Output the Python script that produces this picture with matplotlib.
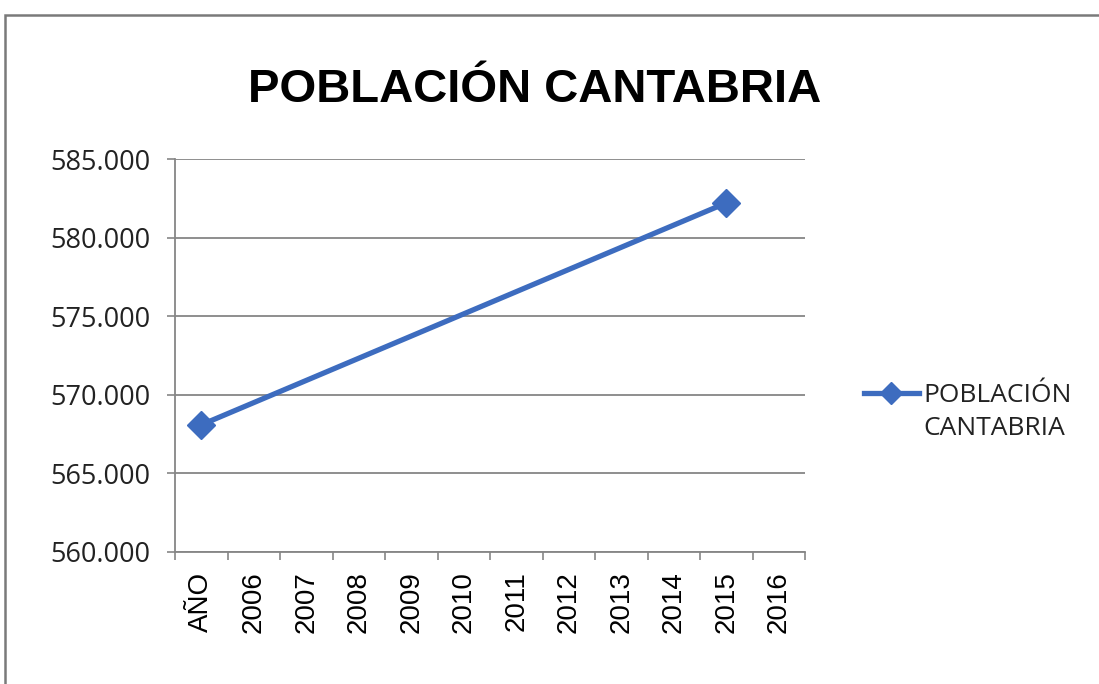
import numpy as np
import matplotlib
matplotlib.use("Agg")
from matplotlib import pyplot as plt
from matplotlib import font_manager
from matplotlib.patches import Rectangle
from matplotlib.ticker import FuncFormatter, FixedLocator
from matplotlib.legend_handler import HandlerLine2D

# datos
categorias = ["AÑO", "2006", "2007", "2008", "2009", "2010",
              "2011", "2012", "2013", "2014", "2015", "2016"]
poblacion = [568091, np.nan, np.nan, np.nan, np.nan, np.nan,
             np.nan, np.nan, np.nan, np.nan, 582206, np.nan]
serie = "POBLACIÓN\nCANTABRIA"
titulo = "POBLACIÓN CANTABRIA"

nombres = {f.name for f in font_manager.fontManager.ttflist}
if "Liberation Sans Narrow" in nombres:
    titulo_font, titulo_size = "Liberation Sans Narrow", 40
else:
    titulo_font, titulo_size = "Liberation Sans", 34

azul = "#3d6cbf"
gris = "#868686"


class HandleArriba(HandlerLine2D):
    # la marca de la leyenda va a la altura de la primera linea del texto
    def create_artists(self, legend, orig_handle, xdescent, ydescent,
                       width, height, fontsize, trans):
        arts = super().create_artists(legend, orig_handle, xdescent, ydescent,
                                      width, height, fontsize, trans)
        for a in arts:
            a.set_ydata(np.asarray(a.get_ydata()) + fontsize * 0.72)
        return arts


fig = plt.figure(figsize=(10.99, 6.84), dpi=100)
fig.patch.set_facecolor("white")

# marco del grafico
fig.add_artist(Rectangle((5 / 1099, -0.1), 1.2, 1.1 - 15 / 684,
                         transform=fig.transFigure, fill=False,
                         edgecolor="#7a7a7a", linewidth=1.8))

ax = fig.add_axes([175 / 1099, 1 - 552 / 684, 630 / 1099, 393 / 684])

x = np.arange(len(categorias))
y = np.array(poblacion, dtype=float)
ok = ~np.isnan(y)
ax.plot(x[ok], y[ok], color=azul, linewidth=3.8, marker="D",
        markersize=14, markeredgecolor=azul, label=serie, zorder=3)

ax.set_xlim(-0.5, len(categorias) - 0.5)
ax.set_ylim(560000, 585000)
ax.set_yticks(np.arange(560000, 585001, 5000))
ax.yaxis.set_major_formatter(FuncFormatter(lambda v, p: f"{v:,.0f}".replace(",", ".")))
ax.grid(axis="y", color=gris, linewidth=1.3)
ax.set_axisbelow(True)

ax.set_xticks(x)
ax.set_xticklabels(categorias, rotation=90, fontfamily="Liberation Sans", fontsize=20)
ax.xaxis.set_minor_locator(FixedLocator(np.arange(-0.5, len(categorias), 1)))
ax.tick_params(axis="x", which="major", length=0, pad=14)
ax.tick_params(axis="x", which="minor", length=6, color=gris, width=1.2)
ax.tick_params(axis="y", length=6, color=gris, width=1.2, pad=12)
for lab in ax.get_yticklabels():
    lab.set_fontfamily("Open Sans")
    lab.set_fontsize(19.5)
    lab.set_color("#222222")

for s in ["top", "right"]:
    ax.spines[s].set_visible(False)
for s in ["left", "bottom"]:
    ax.spines[s].set_color(gris)
    ax.spines[s].set_linewidth(1.3)

fig.text(535 / 1099, 1 - 90 / 684, titulo, ha="center", va="center",
         fontfamily=titulo_font, fontweight="bold", fontsize=titulo_size)

leg = fig.legend(loc="center left", bbox_to_anchor=(853 / 1099, 1 - 412 / 684),
                 frameon=False, prop={"family": "Open Sans", "size": 19},
                 handlelength=2.1, handletextpad=0.15, borderaxespad=0,
                 handler_map={plt.Line2D: HandleArriba()})
for t in leg.get_texts():
    t.set_color("#222222")
    t.set_linespacing(1.4)
for h in leg.legend_handles:
    h.set_markersize(11)

fig.savefig("out.png", dpi=100)
